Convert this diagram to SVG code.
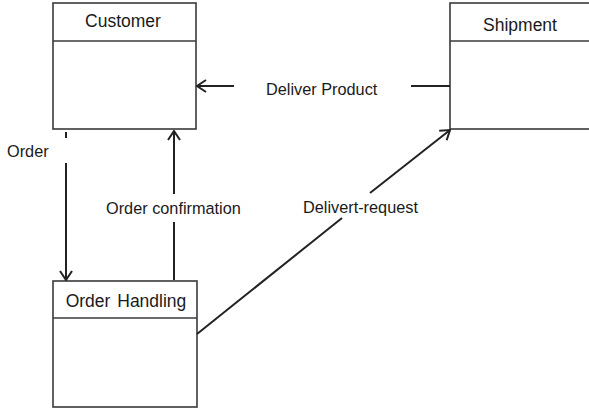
<svg xmlns="http://www.w3.org/2000/svg" width="589" height="408" viewBox="0 0 589 408">
<defs>
<style>
.box{fill:#fff;stroke:#3a3a3a;stroke-width:1.6}
.div{stroke:#3a3a3a;stroke-width:1.6}
.title{font-family:"Liberation Sans",Arial,sans-serif;font-size:17.5px;fill:#1a1a1a;text-anchor:middle}
.lbl{font-family:"Liberation Sans",Arial,sans-serif;font-size:16.3px;fill:#1a1a1a}
.con{fill:none;stroke:#222;stroke-width:2}
</style>
<marker id="ah" viewBox="0 0 11 14" refX="10" refY="7" markerWidth="11" markerHeight="14" markerUnits="userSpaceOnUse" orient="auto">
<path d="M1,1 L10,7 L1,13" fill="none" stroke="#222" stroke-width="2"/>
</marker>
</defs>
<rect width="589" height="408" fill="#fff"/>
<g id="customer">
<rect class="box" x="53" y="3" width="143" height="126"/>
<line class="div" x1="53" y1="41" x2="196" y2="41"/>
<text class="title" x="123" y="27">Customer</text>
</g>
<g id="shipment">
<rect class="box" x="450" y="3" width="145" height="126"/>
<line class="div" x1="450" y1="41" x2="595" y2="41"/>
<text class="title" x="520" y="31">Shipment</text>
</g>
<g id="order-handling">
<rect class="box" x="53" y="281" width="144" height="126"/>
<line class="div" x1="53" y1="318" x2="197" y2="318"/>
<text class="title" x="126" y="307" word-spacing="2">Order Handling</text>
</g>
<g id="connectors">
<line class="con" x1="66" y1="132" x2="66" y2="138"/>
<line class="con" x1="66" y1="163" x2="66" y2="280" marker-end="url(#ah)"/>
<line class="con" x1="174" y1="280" x2="174" y2="222"/>
<line class="con" x1="174" y1="194" x2="174" y2="131" marker-end="url(#ah)"/>
<line class="con" x1="234" y1="86" x2="197" y2="86" marker-end="url(#ah)"/>
<line class="con" x1="411" y1="86" x2="450" y2="86" stroke-width="2.4"/>
<line class="con" x1="197" y1="334" x2="342" y2="218"/>
<line class="con" x1="370" y1="193" x2="450" y2="130" marker-end="url(#ah)"/>
</g>
<g id="labels">
<text class="lbl" x="7" y="157">Order</text>
<text class="lbl" x="106" y="214">Order confirmation</text>
<text class="lbl" x="266" y="95">Deliver Product</text>
<text class="lbl" x="303" y="213">Delivert-request</text>
</g>
</svg>
